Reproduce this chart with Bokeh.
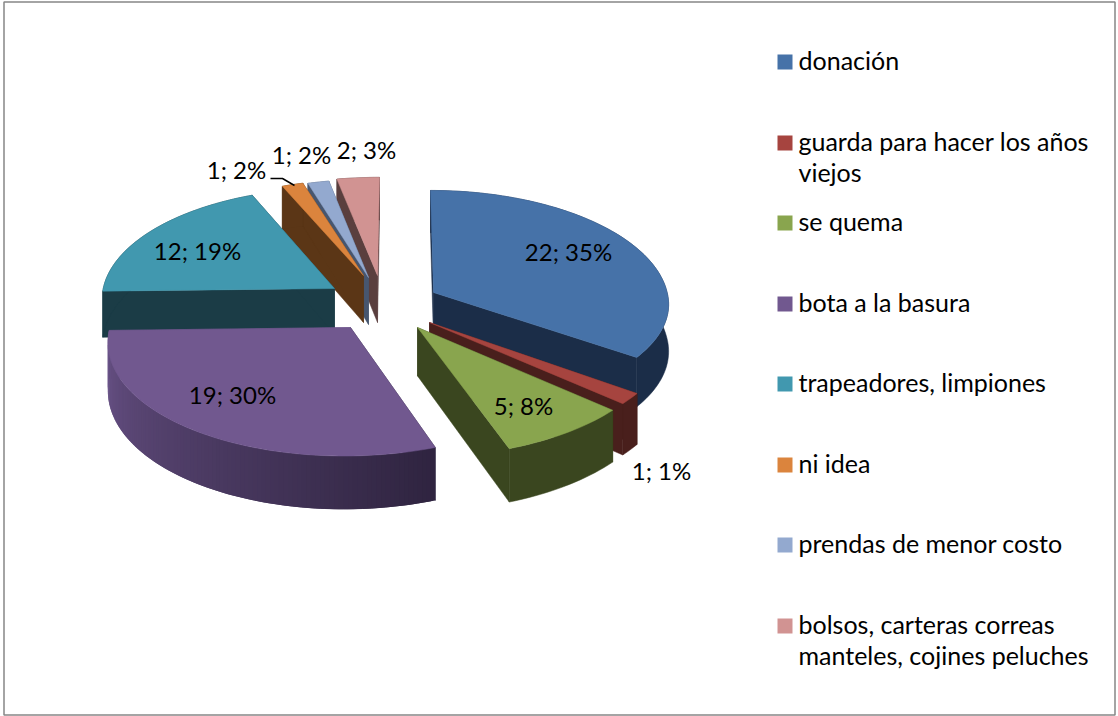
import math
from bokeh.plotting import figure
from bokeh.models import Range1d
from bokeh.core.properties import value
from bokeh.embed import file_html
from bokeh.resources import INLINE

# ---- data ----
categories = ["donación", "guarda para hacer los años viejos", "se quema", "bota a la basura",
              "trapeadores, limpiones", "ni idea", "prendas de menor costo",
              "bolsos, carteras correas manteles, cojines peluches"]
legend_lines = [["donación"], ["guarda para hacer los años", "viejos"], ["se quema"], ["bota a la basura"],
                ["trapeadores, limpiones"], ["ni idea"], ["prendas de menor costo"],
                ["bolsos, carteras correas", "manteles, cojines peluches"]]
counts = [22, 1, 5, 19, 12, 1, 1, 2]
percents = [35, 1, 8, 30, 19, 2, 2, 3]
top_colors = ["#4672A8", "#A6443F", "#89A54E", "#71588F", "#4198AF", "#DB843D", "#93A9CF", "#D19392"]
rim_start = ["#1B2D48", "#491F1C", "#3A461F", "#2F2440", "#1B3C46", "#5B3616", "#47566F", "#5A3F3E"]
rim_end = ["#1B2D48", "#491F1C", "#3A461F", "#6A5388", "#1B3C46", "#5B3616", "#47566F", "#5A3F3E"]

# ---- layout of the exploded 3-D pie, in page pixels ----
centers_x = [433, 429, 417, 350, 334, 363, 368, 377]
centers_y = [292, 322, 327, 327, 288, 275, 277, 275]
scales = [0.99, 1.02, 1.03, 1.02, 0.98, 1.0, 1.0, 1.0]
leans = [3, 0, 0, -6.4, 0, -3, -3, -2]       # sideways shift towards the viewer
ry_far = [1.05, 1, 1, 1, 1.045, 0.98, 1, 1]   # vertical factor, back half
ry_near = [0.98, 1.04, 1.05, 1.05, 1, 1, 1, 1]  # vertical factor, front half
RX, RY, PERSP, DEPTH = 236, 108, 0.1, 47
label_pos = [(568, 250.5), (661, 469.5), (523, 404.5), (232, 393.5), (197, 249.5), (236, 168.5), (301, 153.5), (366, 148.5)]
legend_y = [61, 142, 222, 303, 383, 464, 544, 625]
FONT = "Lato"

W, H = 1118, 716
p = figure(width=W, height=H, output_backend="svg", toolbar_location=None,
           x_range=Range1d(0, W), y_range=Range1d(H, 0), min_border=0,
           outline_line_color=None, background_fill_color="white")
p.xaxis.visible = False
p.yaxis.visible = False
p.grid.visible = False

# chart border
p.quad(left=3.5, right=1114.5, top=1.5, bottom=714.5, fill_color="white", line_color="#868686", line_width=1.5)


def pt(i, deg):
    t = math.radians(deg)
    X, Y = math.sin(t), -math.cos(t)
    s = scales[i] / (1 - PERSP * Y)
    f = ry_far[i] if Y < 0 else ry_near[i]
    return centers_x[i] + RX * X * s + leans[i] * Y, centers_y[i] + RY * Y * s * f, DEPTH * s


def mix(a, b, f):
    ca = [int(a[k:k + 2], 16) for k in (1, 3, 5)]
    cb = [int(b[k:k + 2], 16) for k in (1, 3, 5)]
    return "#%02x%02x%02x" % tuple(round(x + (y - x) * f) for x, y in zip(ca, cb))


total = sum(counts)
angles = [0]
for c in counts:
    angles.append(angles[-1] + 360 * c / total)

for i in [7, 6, 5, 4, 0, 1, 2, 3]:
    a0, a1 = angles[i], angles[i + 1]
    cx, cy = centers_x[i], centers_y[i]
    apex_d = DEPTH * scales[i]
    xs, ys, cols = [], [], []
    # cut faces
    for a, col in ((a0, rim_start[i]), (a1, rim_end[i])):
        x, y, d = pt(i, a)
        xs.append([cx, x, x, cx])
        ys.append([cy, y, y + d, cy + apex_d])
        cols.append(col)
    p.patches(xs, ys, fill_color=cols, line_color=cols, line_width=0.5)
    # rim
    if rim_start[i] == rim_end[i]:
        m = max(2, int((a1 - a0) / 1.5))
        arc = [pt(i, a0 + (a1 - a0) * k / m) for k in range(m + 1)]
        p.patch([q[0] for q in arc] + [q[0] for q in reversed(arc)],
                [q[1] for q in arc] + [q[1] + q[2] for q in reversed(arc)],
                fill_color=rim_start[i], line_color=rim_start[i], line_width=0.5)
    else:
        n = int((a1 - a0))
        for k in range(n):
            b0 = a0 + (a1 - a0) * k / n
            b1 = min(a1, a0 + (a1 - a0) * (k + 2) / n)
            x0, y0, d0 = pt(i, b0)
            x1, y1, d1 = pt(i, b1)
            p.patch([x0, x1, x1, x0], [y0, y1, y1 + d1, y0 + d0],
                    fill_color=mix(rim_start[i], rim_end[i], k / (n - 1)), line_color=None)
    # top face
    m = max(2, int((a1 - a0) / 1.5))
    top = [pt(i, a0 + (a1 - a0) * k / m) for k in range(m + 1)]
    p.patch([cx] + [q[0] for q in top], [cy] + [q[1] for q in top],
            fill_color=top_colors[i], line_color=top_colors[i], line_width=0.5)

# leader line of "ni idea"
p.line([270, 282, 294], [178, 178, 185], line_color="black", line_width=1.5)

# data labels
p.text([q[0] for q in label_pos], [q[1] for q in label_pos],
       text=[f"{c}; {v}%" for c, v in zip(counts, percents)],
       text_font=value(FONT), text_font_size="24px", text_color="black",
       text_align="center", text_baseline="middle")

# legend
p.rect([784.5] * 8, [y + 0.5 for y in legend_y], width=15, height=15, fill_color=top_colors, line_color=None)
tx, ty, tt = [], [], []
for y, lines in zip(legend_y, legend_lines):
    for j, s in enumerate(lines):
        tx.append(798)
        ty.append(y - 2 + 31 * j)
        tt.append(s)
p.text(tx, ty, text=tt, text_font=value(FONT), text_font_size="25px", text_color="black",
       text_align="left", text_baseline="middle")

open("out.html", "w").write(file_html(p, INLINE))
